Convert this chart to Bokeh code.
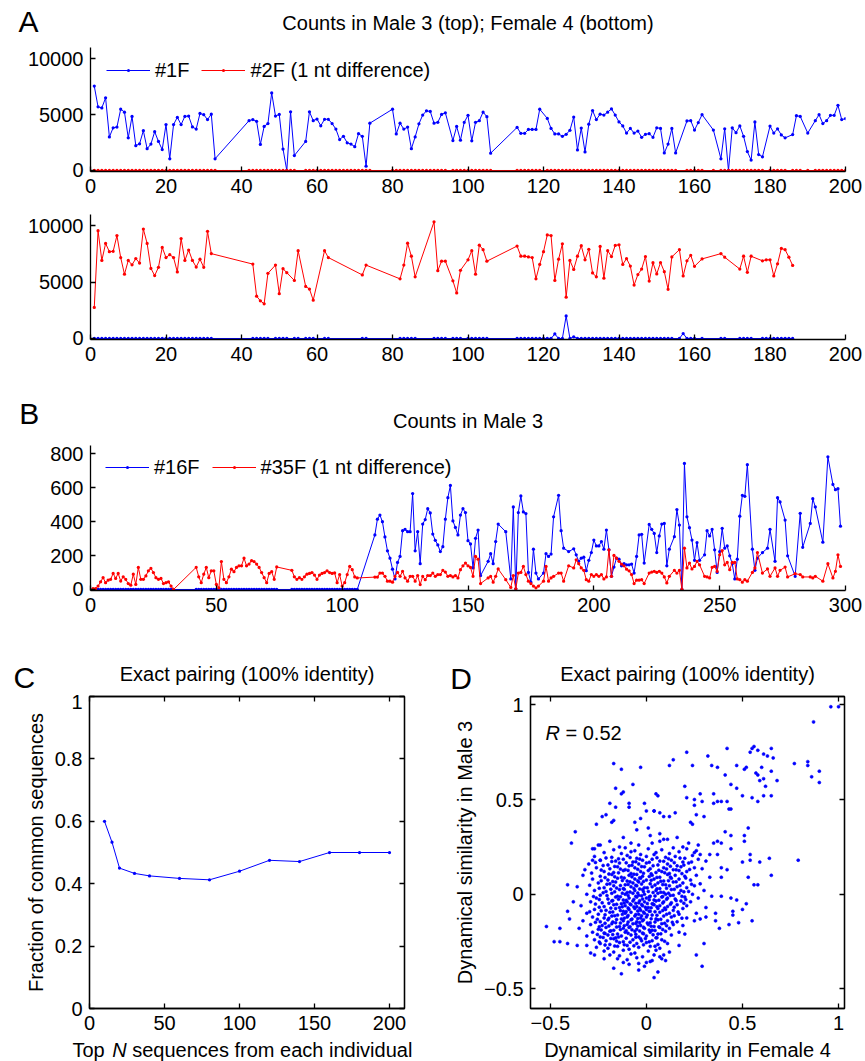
import math
from bokeh.plotting import figure
from bokeh.models import (Range1d, FixedTicker, CustomJSTickFormatter, LinearAxis,
                          Label, Legend, LegendItem)
from bokeh.layouts import column, row
from bokeh.embed import file_html
from bokeh.resources import INLINE

FONT = "Liberation Sans"
BLUE = "#0000ff"
RED = "#ff0000"

# ---------------- Panel A (top: Male 3) ----------------
a_top_days = (list(range(1, 34)) + list(range(42, 55)) + list(range(57, 75)) +
              list(range(80, 95)) + list(range(96, 107)) + list(range(113, 120)) +
              list(range(121, 156)) + list(range(158, 163)) + [165] +
              list(range(167, 179)) + list(range(180, 185)) + list(range(186, 189)) +
              [190] + list(range(192, 201)))
a_top_1f = [7550, 5690, 5600, 6500, 3000, 3820, 3880, 5480, 5220, 2920,
            4840, 2220, 2390, 3560, 1950, 2360, 3470, 2600, 1870, 4110,
            1050, 4110, 4750, 4110, 4840, 4870, 3900, 3700, 5100, 4990,
            4550, 5040, 1050,
            4460, 4550, 4400, 2330, 3940, 4200, 6940, 4870, 5010, 1920, 0, 5250, 1340,
            2600, 5250, 4460, 4600, 4000, 4580, 4580, 4200, 3700, 2770,
            3060, 2480, 2360, 2130, 3290, 3060, 380, 4230,
            5480, 3270, 4230, 3700, 3880, 1950, 3000, 4170, 4960, 5340,
            5280, 4230, 4310, 5010, 5160,
            2680, 3940, 2710, 4310, 4930, 2650, 4310, 4460, 5220, 4810, 1550,
            3850, 3320, 3320, 3670, 3670, 3670, 5480,
            4660, 3760, 3270, 3270, 3060, 3240, 3590, 4780, 1840, 3790,
            1660, 4140, 5360, 4550, 5040, 4960, 5220, 5510, 4960, 4340,
            3990, 3350, 3760, 3350, 3530, 2970, 3240, 3290, 2970, 3820,
            3760, 1570, 2360, 3760, 1570,
            4430, 4460, 3620, 4290, 4990,
            3620,
            1050, 3730, 0, 3820, 3380, 3990, 3060, 1690, 930, 4340, 1430, 1220,
            3970, 3350, 3730, 3180, 2920,
            3210, 4900, 4840,
            3350,
            4460, 4990, 4200, 4460, 4930, 4930, 5830, 4550, 4640]
a_top_2f = [0] * len(a_top_days)

# ---------------- Panel A (bottom: Female 4) ----------------
a_bot_days = (list(range(1, 33)) + list(range(43, 48)) + list(range(49, 53)) +
              [54, 55, 57, 58, 59, 62, 63, 72, 73] + list(range(82, 87)) +
              list(range(91, 95)) + [96, 97, 98] + list(range(100, 106)) +
              list(range(113, 155)) + list(range(156, 161)) + [162, 167, 168] +
              list(range(172, 176)) + list(range(178, 187)))
a_bot_2f = [2760, 9560, 6920, 8430, 7700, 7730, 9130, 7180, 5700, 6920,
            6540, 7090, 6690, 9710, 8430, 6220, 5580, 6310, 8080, 7180,
            7440, 7180, 5900, 8870, 6920, 7850, 6920, 6340, 7030, 6310,
            9510, 7530,
            6600, 3750, 3340, 3080, 5780,
            6510, 3980, 6190, 5840,
            5150, 7790, 4620, 4390, 3400, 7790, 7180, 5640, 6510,
            5290, 6510, 8460, 7300, 5470,
            10350, 6020, 6860, 6860,
            5120, 4040, 6050,
            6980, 7790, 5700, 8280, 7880, 6860,
            8200, 7300, 7300, 7240, 7180, 5290, 6570, 7700, 9190, 9130,
            5150, 7030, 8400, 3660, 6920, 6130, 7300, 8230, 6980, 7910,
            5810, 5470, 8170, 5350, 7790, 7270, 8260, 8310, 6570, 7090,
            6420, 4740, 5670, 6160, 7270, 5090, 6720, 5730, 6740, 5930,
            4360, 7240,
            7880, 5550, 6890, 7380, 6400,
            7060, 7530, 7210,
            6160, 7300, 5870, 7300,
            6890, 6980, 6980, 5550, 6630, 7990, 7880, 7210, 6480]
a_bot_1f_nonzero = {123: 400, 126: 2000, 128: 150, 157: 440}
a_bot_1f = [a_bot_1f_nonzero.get(d, 0) for d in a_bot_days]

# ---------------- Panel B (Male 3) ----------------
b_days = (list(range(1, 34)) + list(range(42, 75)) + list(range(80, 107)) +
          list(range(113, 156)) +
          [158, 159, 160, 161, 162, 165, 167, 168, 169, 170,
           171, 172, 173, 174, 175, 176, 177, 178, 180, 181,
           182, 183, 184, 186, 187, 188, 190, 192, 193, 194,
           195, 196, 197, 198, 199, 200, 201, 202, 203, 204,
           205, 206, 207, 208, 209, 210, 211, 212, 213, 214,
           215, 216, 217, 218, 219, 220, 222, 223, 224, 225,
           226, 227, 228, 229, 230, 232, 233, 234, 235, 236,
           237, 238, 239, 240, 241, 242, 244, 245, 246, 247,
           248, 249, 250, 251, 252, 253, 254, 255, 256, 257,
           258, 259, 260, 261, 263, 264, 265, 267, 269, 270,
           272, 273, 274, 276, 277, 280, 282, 283, 286, 287,
           288, 291, 293, 295, 296, 297, 298])
b_16f = ([0] * (33 + 33 + 27) +
         [322, 415, 439, 400, 310, 228, 185, 120, 62, 160,
          195, 347, 355, 341, 341, 566, 228, 341, 152, 386,
          413, 477, 452, 327, 290, 263, 224, 253, 415, 542,
          614, 405, 366, 322, 439, 477, 454, 288, 269, 127,
          302, 351, 82] +
         [166, 211, 152, 283, 386, 341, 62, 487, 4, 454,
          552, 458, 448, 101, 43, 238, 97, 62, 97, 211,
          195, 209, 429, 556, 347, 244, 224, 240, 205, 166,
          185, 191, 111, 172, 218, 292, 257, 257, 283, 238,
          351, 234, 78, 132, 185, 179, 140, 152, 146, 146,
          150, 97, 195, 322, 326, 156, 384, 355, 331, 218,
          316, 386, 390, 140, 238, 312, 472, 380, 0, 744,
          429, 365, 292, 172, 277, 172, 205, 347, 316, 355,
          234, 101, 224, 361, 244, 257, 199, 152, 62, 179,
          433, 556, 550, 737, 238, 113, 185, 218, 244, 355,
          166, 542, 517, 410, 199, 78, 450, 249, 390, 536,
          487, 279, 783, 620, 589, 595, 374])
b_35f = ([5, 5, 20, 45, 70, 40, 55, 60, 95, 65,
          95, 50, 75, 60, 35, 25, 90, 30, 130, 60,
          60, 80, 110, 125, 100, 70, 60, 65, 35, 40,
          45, 20, 0] +
         [131, 75, 40, 90, 130, 70, 110, 110, 30, 10,
          165, 60, 40, 75, 120, 105, 130, 140, 140, 185,
          140, 150, 170, 165, 150, 130, 100, 70, 40, 95,
          105, 60, 133] +
         [113, 75, 60, 70, 60, 75, 90, 95, 100, 85,
          60, 85, 95, 100, 110, 100, 95, 98, 40, 88,
          20, 40, 88, 136, 117, 74, 68] +
         [73, 73, 97, 97, 78, 49, 49, 43, 78, 101,
          78, 107, 68, 49, 78, 78, 49, 82, 29, 78,
          58, 82, 82, 97, 78, 88, 88, 113, 103, 78,
          82, 74, 82, 68, 117, 140, 156, 140, 130, 78,
          195, 179, 35] +
         [68, 78, 43, 78, 121, 58, 12, 82, 4, 97,
          101, 136, 88, 49, 35, 20, 10, 20, 49, 136,
          49, 68, 78, 97, 97, 49, 140, 127, 175, 152,
          127, 113, 58, 49, 88, 78, 88, 78, 88, 62,
          74, 234, 78, 201, 185, 166, 150, 140, 120, 110,
          88, 35, 55, 55, 58, 35, 97, 103, 107, 101,
          107, 97, 74, 39, 78, 113, 97, 113, 0, 244,
          127, 156, 121, 136, 166, 146, 78, 74, 68, 131,
          136, 107, 205, 230, 146, 160, 117, 160, 160, 62,
          58, 43, 58, 49, 101, 127, 218, 97, 121, 78,
          127, 78, 113, 132, 74, 93, 88, 74, 74, 68,
          78, 49, 152, 68, 107, 205, 136])

# ---------------- Panel C ----------------
c_top_n = [10, 15, 20, 30, 40, 60, 80, 100, 120, 140, 160, 180, 200]
c_fraction = [0.600, 0.533, 0.450, 0.433, 0.425, 0.417, 0.4125, 0.440, 0.475, 0.471, 0.500, 0.500, 0.500]

# ---------------- Panel D (female4, male3) ----------------
d_outer = [(0.96, 0.99), (1.00, 0.99), (0.87, 0.91), (0.77, 0.69), (0.84, 0.70), (0.84, 0.68),
           (0.86, 0.62), (0.90, 0.65), (0.90, 0.59), (0.68, 0.60), (0.65, 0.77), (0.66, 0.72),
           (0.63, 0.73), (0.61, 0.74), (0.58, 0.76), (0.55, 0.77), (0.54, 0.75), (0.56, 0.78),
           (0.52, 0.67), (0.51, 0.66), (0.47, 0.68), (0.57, 0.64), (0.58, 0.63), (0.60, 0.67),
           (0.59, 0.60), (0.61, 0.61), (0.65, 0.65), (0.65, 0.52), (0.62, 0.57), (0.61, 0.52),
           (0.55, 0.51), (0.58, 0.49), (0.50, 0.52), (0.47, 0.56), (0.44, 0.58), (0.41, 0.63),
           (0.42, 0.77), (0.37, 0.67), (0.34, 0.68), (0.32, 0.73), (0.21, 0.75), (0.14, 0.71),
           (0.12, 0.68), (0.24, 0.68), (0.28, 0.53), (0.29, 0.49), (0.35, 0.53), (0.37, 0.49),
           (0.39, 0.49), (0.42, 0.49), (0.43, 0.45), (0.44, 0.45), (0.35, 0.48), (0.21, 0.51),
           (0.20, 0.57), (0.25, 0.47), (0.25, 0.50), (0.30, 0.41), (0.26, 0.42), (0.23, 0.38),
           (0.24, 0.37), (0.12, 0.41), (0.15, 0.43), (0.09, 0.41), (0.07, 0.43), (0.04, 0.44),
           (0.05, 0.53), (0.06, 0.52), (-0.07, 0.58), (-0.03, 0.67), (-0.17, 0.69), (-0.13, 0.66),
           (-0.16, 0.56), (-0.13, 0.53), (-0.12, 0.54), (-0.09, 0.48), (-0.09, 0.46), (-0.16, 0.46),
           (-0.21, 0.42), (-0.23, 0.41), (-0.18, 0.38), (-0.17, 0.39), (-0.01, 0.48), (0.00, 0.44),
           (0.04, 0.44), (-0.06, 0.38), (-0.03, 0.40), (0.01, 0.35), (0.07, 0.32), (-0.05, 0.34),
           (-0.19, 0.48), (-0.26, 0.37), (-0.37, 0.33), (-0.39, 0.27), (-0.24, 0.26), (-0.27, 0.24),
           (-0.24, 0.18), (-0.28, 0.18), (-0.32, 0.13), (-0.41, 0.05), (-0.38, -0.04), (-0.41, -0.09),
           (-0.40, -0.13), (-0.45, -0.18), (-0.52, -0.17), (-0.48, -0.25), (-0.45, -0.25), (-0.41, -0.26),
           (-0.36, -0.27), (-0.31, -0.27), (-0.29, -0.31), (-0.27, -0.32), (-0.22, -0.34), (-0.17, -0.39),
           (-0.13, -0.42), (-0.09, -0.37), (-0.04, -0.40), (-0.01, -0.38), (0.00, -0.36), (0.04, -0.44),
           (0.06, -0.41), (0.10, -0.35), (0.09, -0.32), (0.07, -0.33), (0.17, -0.27), (0.26, -0.32),
           (0.29, -0.38), (0.30, -0.26), (0.20, -0.21), (0.25, -0.14), (0.28, -0.13), (0.31, -0.12),
           (0.36, -0.10), (0.36, -0.14), (0.39, -0.01), (0.43, -0.16), (0.45, -0.09), (0.47, -0.03),
           (0.50, -0.08), (0.52, -0.05), (0.55, -0.14), (0.58, 0.05), (0.56, 0.05), (0.53, 0.09),
           (0.59, 0.17), (0.64, 0.19), (0.65, 0.10), (0.50, 0.17), (0.54, 0.18), (0.54, 0.21),
           (0.51, 0.28), (0.53, 0.35), (0.51, 0.31), (0.44, 0.31), (0.44, 0.24), (0.39, 0.27),
           (0.37, 0.21), (0.33, 0.21), (0.35, 0.27), (0.37, 0.28), (0.41, 0.33), (0.39, 0.14),
           (0.42, 0.13), (0.39, 0.09), (0.79, 0.18), (0.44, -0.02), (0.48, -0.15), (0.45, -0.11),
           (0.38, -0.18)]

d_core = [(-0.12, 0.30), (0.02, 0.31), (0.09, 0.29), (0.16, 0.30),
          (-0.19, 0.28), (-0.08, 0.27), (0.07, 0.28), (0.11, 0.29), (0.22, 0.27),
          (-0.25, 0.26), (-0.14, 0.25), (-0.04, 0.26), (0.03, 0.27), (0.19, 0.25), (0.27, 0.26),
          (-0.28, 0.24), (-0.17, 0.235), (-0.11, 0.245), (-0.06, 0.23), (0.01, 0.24), (0.08, 0.235),
          (0.14, 0.245), (0.21, 0.24), (0.26, 0.23),
          (-0.22, 0.22), (-0.13, 0.215), (-0.08, 0.225), (-0.03, 0.21), (0.05, 0.22), (0.12, 0.215),
          (0.17, 0.225), (0.25, 0.22), (0.28, 0.21),
          (-0.27, 0.20), (-0.18, 0.195), (-0.10, 0.205), (-0.05, 0.19), (0.00, 0.20), (0.04, 0.21),
          (0.10, 0.195), (0.15, 0.20), (0.20, 0.19), (0.24, 0.205),
          (-0.24, 0.18), (-0.16, 0.175), (-0.12, 0.185), (-0.07, 0.17), (-0.02, 0.18), (0.03, 0.185),
          (0.07, 0.175), (0.13, 0.18), (0.19, 0.17), (0.27, 0.185), (0.31, 0.175),
          (-0.30, 0.16), (-0.20, 0.155), (-0.14, 0.165), (-0.09, 0.15), (-0.04, 0.16), (0.00, 0.165),
          (0.06, 0.155), (0.11, 0.16), (0.16, 0.15), (0.22, 0.165),
          (-0.26, 0.14), (-0.19, 0.135), (-0.15, 0.145), (-0.11, 0.13), (-0.06, 0.14), (-0.01, 0.145),
          (0.02, 0.135), (0.09, 0.14), (0.14, 0.13), (0.18, 0.145), (0.25, 0.14), (0.29, 0.135),
          (-0.22, 0.12), (-0.17, 0.115), (-0.12, 0.125), (-0.08, 0.11), (-0.03, 0.12), (0.01, 0.125),
          (0.05, 0.115), (0.08, 0.12), (0.12, 0.11), (0.17, 0.125), (0.21, 0.12),
          (-0.33, 0.10), (-0.24, 0.095), (-0.18, 0.105), (-0.13, 0.09), (-0.09, 0.10), (-0.05, 0.105),
          (-0.02, 0.095), (0.03, 0.10), (0.07, 0.09), (0.11, 0.105), (0.15, 0.10), (0.20, 0.095),
          (0.26, 0.10), (0.33, 0.09),
          (-0.28, 0.08), (-0.20, 0.075), (-0.15, 0.085), (-0.10, 0.07), (-0.06, 0.08), (-0.03, 0.085),
          (0.00, 0.075), (0.04, 0.08), (0.09, 0.07), (0.13, 0.085), (0.17, 0.08), (0.23, 0.075),
          (-0.25, 0.06), (-0.19, 0.055), (-0.16, 0.065), (-0.11, 0.05), (-0.07, 0.06), (-0.04, 0.065),
          (0.02, 0.055), (0.06, 0.06), (0.10, 0.05), (0.14, 0.065), (0.19, 0.06), (0.28, 0.055),
          (-0.36, 0.04), (-0.22, 0.035), (-0.17, 0.045), (-0.12, 0.03), (-0.08, 0.04), (-0.05, 0.045),
          (-0.01, 0.035), (0.03, 0.04), (0.07, 0.03), (0.12, 0.045), (0.16, 0.04), (0.21, 0.035),
          (0.25, 0.045),
          (-0.27, 0.02), (-0.21, 0.015), (-0.14, 0.025), (-0.10, 0.01), (-0.06, 0.02), (-0.02, 0.025),
          (0.01, 0.015), (0.05, 0.02), (0.09, 0.01), (0.13, 0.025), (0.18, 0.02), (0.22, 0.015),
          (0.30, 0.02),
          (-0.31, 0.00), (-0.24, -0.005), (-0.18, 0.005), (-0.15, -0.01), (-0.11, 0.00), (-0.07, 0.005),
          (-0.04, -0.005), (-0.01, 0.00), (0.02, -0.01), (0.06, 0.005), (0.10, 0.00), (0.14, -0.005),
          (0.17, 0.005), (0.24, 0.00), (0.34, -0.01),
          (-0.26, -0.02), (-0.20, -0.025), (-0.16, -0.015), (-0.12, -0.03), (-0.09, -0.02), (-0.05, -0.015),
          (-0.02, -0.025), (0.00, -0.02), (0.04, -0.03), (0.08, -0.015), (0.11, -0.02), (0.15, -0.025),
          (0.20, -0.015), (0.27, -0.02),
          (-0.29, -0.04), (-0.23, -0.045), (-0.18, -0.035), (-0.13, -0.05), (-0.10, -0.04), (-0.07, -0.035),
          (-0.04, -0.045), (-0.01, -0.04), (0.03, -0.05), (0.05, -0.035), (0.09, -0.04), (0.13, -0.045),
          (0.18, -0.035), (0.23, -0.04),
          (-0.34, -0.06), (-0.22, -0.065), (-0.17, -0.055), (-0.14, -0.07), (-0.11, -0.06), (-0.08, -0.055),
          (-0.05, -0.065), (-0.02, -0.06), (0.01, -0.07), (0.04, -0.055), (0.07, -0.06), (0.11, -0.065),
          (0.16, -0.055), (0.21, -0.06), (0.31, -0.07),
          (-0.27, -0.08), (-0.21, -0.085), (-0.16, -0.075), (-0.12, -0.09), (-0.09, -0.08), (-0.06, -0.075),
          (-0.03, -0.085), (0.00, -0.08), (0.02, -0.09), (0.06, -0.075), (0.10, -0.08), (0.14, -0.085),
          (0.19, -0.075),
          (-0.31, -0.10), (-0.25, -0.105), (-0.19, -0.095), (-0.15, -0.11), (-0.11, -0.10), (-0.08, -0.095),
          (-0.04, -0.105), (-0.01, -0.10), (0.03, -0.11), (0.07, -0.095), (0.12, -0.10), (0.17, -0.105),
          (0.26, -0.10),
          (-0.28, -0.12), (-0.22, -0.125), (-0.18, -0.115), (-0.13, -0.13), (-0.10, -0.12), (-0.06, -0.115),
          (-0.03, -0.125), (0.00, -0.12), (0.05, -0.13), (0.09, -0.115), (0.13, -0.12), (0.21, -0.125),
          (-0.33, -0.14), (-0.24, -0.145), (-0.20, -0.135), (-0.16, -0.15), (-0.12, -0.14), (-0.08, -0.135),
          (-0.05, -0.145), (-0.02, -0.14), (0.02, -0.15), (0.06, -0.135), (0.11, -0.14), (0.16, -0.145),
          (-0.29, -0.16), (-0.23, -0.165), (-0.18, -0.155), (-0.14, -0.17), (-0.10, -0.16), (-0.07, -0.155),
          (-0.03, -0.165), (0.01, -0.16), (0.04, -0.17), (0.08, -0.155), (0.14, -0.16), (0.19, -0.165),
          (-0.35, -0.18), (-0.25, -0.185), (-0.21, -0.175), (-0.17, -0.19), (-0.12, -0.18), (-0.09, -0.175),
          (-0.05, -0.185), (-0.01, -0.18), (0.03, -0.19), (0.07, -0.175), (0.12, -0.18),
          (-0.28, -0.20), (-0.22, -0.205), (-0.19, -0.195), (-0.15, -0.21), (-0.11, -0.20), (-0.06, -0.195),
          (-0.02, -0.205), (0.02, -0.20), (0.06, -0.21), (0.10, -0.195), (0.17, -0.20),
          (-0.31, -0.22), (-0.24, -0.225), (-0.20, -0.215), (-0.16, -0.23), (-0.13, -0.22), (-0.08, -0.215),
          (-0.04, -0.225), (0.00, -0.22), (0.05, -0.23), (0.13, -0.215),
          (-0.27, -0.24), (-0.21, -0.245), (-0.17, -0.235), (-0.12, -0.25), (-0.07, -0.24), (-0.03, -0.235),
          (0.03, -0.245), (0.08, -0.24),
          (-0.24, -0.26), (-0.19, -0.265), (-0.14, -0.255), (-0.10, -0.27), (-0.05, -0.26), (0.00, -0.255),
          (0.06, -0.265), (0.11, -0.26),
          (-0.26, -0.28), (-0.20, -0.285), (-0.15, -0.275), (-0.09, -0.29), (-0.04, -0.28), (0.02, -0.275),
          (0.07, -0.285),
          (-0.22, -0.30), (-0.17, -0.305), (-0.12, -0.295), (-0.06, -0.31), (0.01, -0.30), (0.05, -0.295),
          (0.12, -0.305),
          (-0.19, -0.32), (-0.14, -0.325), (-0.08, -0.315), (-0.02, -0.33), (0.04, -0.32),
          (-0.15, -0.34), (-0.10, -0.345), (-0.05, -0.335), (0.03, -0.35), (0.08, -0.34),
          (-0.12, -0.36), (-0.04, -0.365), (0.02, -0.355)]

d_core2 = [(-0.21, 0.192), (-0.145, 0.187), (-0.085, 0.194), (-0.035, 0.186), (0.055, 0.193), (0.115, 0.188), (0.175, 0.191),
           (-0.265, 0.168), (-0.18, 0.173), (-0.105, 0.166), (-0.055, 0.172), (0.015, 0.169), (0.09, 0.174), (0.145, 0.167), (0.235, 0.171),
           (-0.225, 0.152), (-0.165, 0.147), (-0.075, 0.153), (-0.025, 0.146), (0.035, 0.151), (0.125, 0.148), (0.195, 0.154),
           (-0.235, 0.128), (-0.135, 0.133), (-0.095, 0.126), (-0.045, 0.132), (0.065, 0.127), (0.105, 0.134), (0.155, 0.129), (0.225, 0.131),
           (-0.285, 0.112), (-0.195, 0.107), (-0.145, 0.113), (-0.065, 0.106), (-0.015, 0.111), (0.025, 0.108), (0.095, 0.114), (0.185, 0.109),
           (-0.215, 0.088), (-0.165, 0.093), (-0.115, 0.086), (-0.075, 0.092), (-0.035, 0.087), (0.015, 0.094), (0.055, 0.089), (0.125, 0.091), (0.205, 0.086),
           (-0.235, 0.072), (-0.175, 0.067), (-0.125, 0.073), (-0.085, 0.066), (-0.045, 0.071), (-0.015, 0.068), (0.025, 0.074), (0.075, 0.069), (0.115, 0.072), (0.155, 0.066),
           (-0.295, 0.048), (-0.205, 0.053), (-0.135, 0.046), (-0.095, 0.052), (-0.055, 0.047), (-0.025, 0.054), (0.045, 0.049), (0.085, 0.051), (0.175, 0.046), (0.235, 0.053),
           (-0.245, 0.032), (-0.185, 0.027), (-0.155, 0.033), (-0.115, 0.026), (-0.065, 0.031), (-0.035, 0.028), (0.005, 0.034), (0.055, 0.029), (0.105, 0.032), (0.145, 0.026),
           (-0.225, 0.008), (-0.165, 0.013), (-0.125, 0.006), (-0.085, 0.012), (-0.045, 0.007), (-0.015, 0.014), (0.035, 0.009), (0.075, 0.011), (0.115, 0.006), (0.195, 0.013),
           (-0.275, -0.012), (-0.205, -0.007), (-0.135, -0.013), (-0.095, -0.006), (-0.055, -0.011), (-0.025, -0.008), (0.015, -0.014), (0.045, -0.009), (0.085, -0.012), (0.125, -0.006), (0.185, -0.011),
           (-0.245, -0.028), (-0.175, -0.033), (-0.145, -0.026), (-0.105, -0.032), (-0.065, -0.027), (-0.035, -0.034), (0.015, -0.029), (0.065, -0.031), (0.105, -0.026), (0.155, -0.033), (0.205, -0.028),
           (-0.265, -0.052), (-0.195, -0.047), (-0.155, -0.053), (-0.115, -0.046), (-0.085, -0.051), (-0.055, -0.048), (-0.025, -0.054), (0.005, -0.049), (0.035, -0.052), (0.085, -0.046), (0.125, -0.053), (0.195, -0.047),
           (-0.245, -0.068), (-0.185, -0.073), (-0.125, -0.066), (-0.095, -0.072), (-0.065, -0.067), (-0.035, -0.074), (-0.005, -0.069), (0.025, -0.071), (0.055, -0.066), (0.095, -0.073), (0.145, -0.068),
           (-0.295, -0.092), (-0.235, -0.087), (-0.175, -0.093), (-0.135, -0.086), (-0.105, -0.091), (-0.045, -0.088), (-0.015, -0.094), (0.015, -0.089), (0.045, -0.092), (0.085, -0.086), (0.165, -0.093),
           (-0.215, -0.108), (-0.165, -0.113), (-0.125, -0.106), (-0.095, -0.112), (-0.055, -0.107), (-0.025, -0.114), (0.005, -0.109), (0.055, -0.111), (0.105, -0.106), (0.145, -0.113),
           (-0.255, -0.132), (-0.195, -0.127), (-0.155, -0.133), (-0.115, -0.126), (-0.075, -0.131), (-0.045, -0.128), (-0.015, -0.134), (0.025, -0.129), (0.075, -0.132), (0.185, -0.126),
           (-0.265, -0.148), (-0.215, -0.153), (-0.175, -0.146), (-0.135, -0.152), (-0.095, -0.147), (-0.055, -0.154), (-0.035, -0.149), (0.005, -0.151), (0.045, -0.146), (0.095, -0.153), (0.135, -0.148),
           (-0.245, -0.172), (-0.195, -0.167), (-0.155, -0.173), (-0.115, -0.166), (-0.085, -0.171), (-0.045, -0.168), (-0.015, -0.174), (0.025, -0.169), (0.065, -0.172), (0.105, -0.166),
           (-0.235, -0.188), (-0.185, -0.193), (-0.135, -0.186), (-0.105, -0.192), (-0.075, -0.187), (-0.035, -0.194), (0.015, -0.189), (0.045, -0.191), (0.085, -0.186),
           (-0.255, -0.212), (-0.215, -0.207), (-0.175, -0.213), (-0.095, -0.206), (-0.055, -0.211), (-0.015, -0.208), (0.035, -0.214), (0.075, -0.209),
           (-0.225, -0.228), (-0.185, -0.233), (-0.145, -0.226), (-0.105, -0.232), (-0.055, -0.227), (-0.005, -0.234), (0.055, -0.229),
           (-0.245, -0.252), (-0.155, -0.247), (-0.085, -0.253), (-0.025, -0.246), (0.015, -0.251), (0.095, -0.248),
           (-0.215, -0.268), (-0.165, -0.273), (-0.115, -0.266), (-0.065, -0.272), (-0.015, -0.267), (0.045, -0.274)]

d_points = d_outer + d_core + d_core2
d_female4 = [pt[0] for pt in d_points]
d_male3 = [pt[1] for pt in d_points]


# ---------------- helpers ----------------
def num_fmt():
    return CustomJSTickFormatter(code="var v = Math.round(tick*1000)/1000; var s = String(Math.abs(v)); return (v < 0 ? '\\u2212' : '') + s;")


def style_axis(ax, show=True):
    ax.axis_line_color = "black"
    ax.axis_line_width = 1.3
    ax.major_tick_line_color = "black"
    ax.major_tick_line_width = 1.3
    ax.major_tick_in = 5
    ax.major_tick_out = 0
    ax.minor_tick_line_color = None
    ax.major_label_text_font = FONT
    ax.major_label_text_font_size = "20px" if show else "0px"
    ax.major_label_text_color = "black"
    ax.major_label_standoff = 7 if show else 0
    ax.axis_label_text_font = FONT
    ax.axis_label_text_font_size = "20px"
    ax.axis_label_text_font_style = "normal"
    ax.axis_label_text_color = "black"


def make_fig(w, h, bl, br, bt, bb, xr, yr, xt, yt, box=False, ylabel=None):
    p = figure(width=w, height=h, x_range=Range1d(*xr), y_range=Range1d(*yr),
               x_axis_type=None, y_axis_type=None, output_backend="svg",
               toolbar_location=None, title=None,
               min_border_left=bl, min_border_right=br, min_border_top=bt, min_border_bottom=bb)
    p.outline_line_color = "black" if box else None
    p.outline_line_width = 1.3
    p.background_fill_color = "white"
    p.border_fill_color = "white"
    sides = [("below", xt, True), ("left", yt, True)]
    if box:
        sides += [("above", xt, False), ("right", yt, False)]
    for side, ticks, show in sides:
        fmt = num_fmt() if show else CustomJSTickFormatter(code="return '';")
        ax = LinearAxis(ticker=FixedTicker(ticks=list(ticks)), formatter=fmt)
        style_axis(ax, show)
        if side == "left" and ylabel:
            ax.axis_label = ylabel
            ax.axis_label_standoff = 5
        p.add_layout(ax, side)
    return p


def strip(w, h):
    p = figure(width=w, height=h, x_range=Range1d(0, w), y_range=Range1d(0, h),
               x_axis_type=None, y_axis_type=None, output_backend="svg",
               toolbar_location=None, title=None, min_border=0,
               min_border_left=0, min_border_right=0, min_border_top=0, min_border_bottom=0)
    p.outline_line_color = None
    p.background_fill_color = "white"
    p.border_fill_color = "white"
    return p


def add_text(p, x, y, text, size=20, align="center", baseline="middle", angle=0.0, style="normal"):
    p.add_layout(Label(x=x, y=y, x_units="screen", y_units="screen", text=text,
                       text_font=FONT, text_font_size=f"{size}px", text_align=align,
                       text_baseline=baseline, angle=angle, text_font_style=style,
                       text_color="black"))


def series(p, x, y, color):
    ln = p.line(x, y, line_color=color, line_width=1)
    sc = p.scatter(x, y, size=13, marker="dot", line_color=color, fill_color=color)
    return [ln, sc]


def add_legend(p, items, loc):
    leg = Legend(items=[LegendItem(label=lab, renderers=r) for lab, r in items],
                 location=loc, orientation="horizontal", border_line_color=None,
                 background_fill_alpha=0, label_text_font=FONT, label_text_font_size="20px",
                 label_text_color="black", glyph_width=44, glyph_height=30, label_height=30,
                 label_standoff=5, spacing=12, padding=0, margin=0)
    p.add_layout(leg)


W = 865

# ---------------- Panel A ----------------
hdrA = strip(W, 42)
add_text(hdrA, 28, 21, "A", size=30)
add_text(hdrA, 467.5, 19.8, "Counts in Male 3 (top); Female 4 (bottom)")

pA1 = make_fig(W, 159, 90, 20, 5, 30, (0, 200), (-90, 11000), range(0, 201, 20), [0, 5000, 10000])
rA1 = series(pA1, a_top_days, a_top_1f, BLUE)
rA2 = series(pA1, a_top_days, a_top_2f, RED)
add_legend(pA1, [("#1F", rA1), ("#2F (1 nt difference)", rA2)], (16, 86))

pA2 = make_fig(W, 168, 90, 20, 13, 30, (0, 200), (-90, 11000), range(0, 201, 20), [0, 5000, 10000])
series(pA2, a_bot_days, a_bot_1f, BLUE)
series(pA2, a_bot_days, a_bot_2f, RED)

# ---------------- Panel B ----------------
hdrB = strip(W, 71)
add_text(hdrB, 28.7, 26.7, "B", size=30)
add_text(hdrB, 467.5, 19.2, "Counts in Male 3")

pB = make_fig(W, 200, 90, 20, 5, 50, (0, 300), (-6, 850), range(0, 301, 50), [0, 200, 400, 600, 800])
rB1 = series(pB, b_days, b_16f, BLUE)
rB2 = series(pB, b_days, b_35f, RED)
add_legend(pB, [("#16F", rB1), ("#35F (1 nt difference)", rB2)], (15, 108))

# ---------------- Panels C, D ----------------
hdrCD = strip(W, 54)
add_text(hdrCD, 23.8, 17.5, "C", size=30)
add_text(hdrCD, 246.5, 20.8, "Exact pairing (100% identity)")
add_text(hdrCD, 460.5, 16.5, "D", size=30)
add_text(hdrCD, 687, 20.8, "Exact pairing (100% identity)")

pC = make_fig(440, 344, 89, 36, 2, 30, (0, 210), (0, 1), [0, 50, 100, 150, 200],
              [0, 0.2, 0.4, 0.6, 0.8, 1], box=True, ylabel="Fraction of common sequences")
series(pC, c_top_n, c_fraction, BLUE)

pD = make_fig(425, 344, 90, 21, 2, 30, (-0.603, 1.031), (-0.603, 1.044), [-0.5, 0, 0.5, 1],
              [-0.5, 0, 0.5, 1], box=True, ylabel="Dynamical similarity in Male 3")
pD.scatter(d_female4, d_male3, size=3, marker="circle", fill_color=BLUE, line_color=BLUE, line_width=0.6)
add_text(pD, 15, 276, "R", align="left", style="italic")
add_text(pD, 35, 276, "= 0.52", align="left")

footer = strip(W, 23)
add_text(footer, 72, 11.5, "Top", align="left")
add_text(footer, 111.7, 11.5, "N", align="left", style="italic")
add_text(footer, 131.7, 11.5, "sequences from each individual", align="left")
add_text(footer, 687, 11.5, "Dynamical similarity in Female 4")

layout = column(row(hdrA), pA1, pA2, row(hdrB), pB, row(hdrCD), row(pC, pD), row(footer))
open("out.html", "w").write(file_html(layout, INLINE))
